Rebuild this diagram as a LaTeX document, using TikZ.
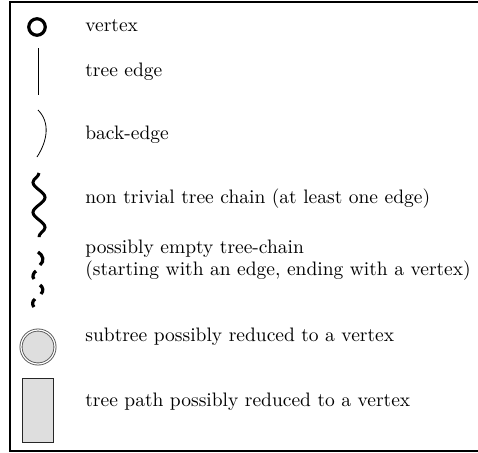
\documentclass[tikz,border=0pt]{standalone}
\usetikzlibrary{decorations.pathmorphing}
\begin{document}
\begin{tikzpicture}[x=1pt,y=-1pt,
  lbl/.style={anchor=base west,inner sep=0pt,font=\fontsize{10}{12}\selectfont,scale=1.95,transform shape},
  vtx/.style={circle,draw=black,line width=3.2pt,minimum size=16.5pt,inner sep=0pt},
  frameline/.style={line width=2pt},
  treeedge/.style={line width=1pt},
  backedge/.style={line width=0.8pt},
  chain/.style={line width=3pt,decorate,decoration={snake,amplitude=6pt,segment length=30pt,mirror}},
  dsh/.style={line width=3.2pt},
  subtree/.style={circle,draw=black!65,double=white,double distance=1.2pt,line width=0.9pt,fill=black!13,minimum size=34pt,inner sep=0pt},
  pathbox/.style={draw=black!85,line width=1pt,fill=black!13,minimum width=31pt,minimum height=64pt,inner sep=0pt}]
\useasboundingbox (0,0) rectangle (478,452);
\coordinate (ftl) at (9,2);
\coordinate (ftr) at (490,2);
\coordinate (fbl) at (9,450.7);
\coordinate (fbr) at (490,450.7);
\coordinate (flt) at (10,1);
\coordinate (flb) at (10,451.7);
\draw[frameline] (ftl) -- (ftr);
\draw[frameline] (fbl) -- (fbr);
\draw[frameline] (flt) -- (flb);
% vertex
\node[vtx] (v) at (37,27) {};
\node[lbl] (lv) at (85,32) {vertex};
% tree edge
\coordinate (te1) at (38,48);
\coordinate (te2) at (38,95);
\draw[treeedge] (te1) -- (te2);
\node[lbl] (lte) at (85,76) {tree edge};
% back-edge
\coordinate (be1) at (38,110);
\coordinate (be2) at (37,157);
\draw[backedge] (be1) .. controls (50,122) and (48,140) .. (be2);
\node[lbl] (lbe) at (85,139) {back-edge};
% chain
\coordinate (c1) at (39,173);
\coordinate (c2) at (39,237);
\draw[chain] (c1) -- (c2);
\node[lbl] (lc) at (85,203) {non trivial tree chain (at least one edge)};
% dashed chain (drawn as separate curled dashes)
\coordinate (d1a) at (38,252);
\coordinate (d1b) at (40,265);
\coordinate (d2a) at (36,271);
\coordinate (d2b) at (34,279);
\coordinate (d3a) at (40,285);
\coordinate (d3b) at (41,294);
\coordinate (d4a) at (35,299);
\coordinate (d4b) at (34,307);
\draw[dsh] (d1a) .. controls (43,255) and (45,261) .. (d1b);
\draw[dsh] (d2a) .. controls (33,273) and (32,277) .. (d2b);
\draw[dsh] (d3a) .. controls (43,287) and (44,291) .. (d3b);
\draw[dsh] (d4a) .. controls (32,301) and (32,305) .. (d4b);
\node[lbl] (ld1) at (85,253) {possibly empty tree-chain};
\node[lbl] (ld2) at (85,275) {(starting with an edge, ending with a vertex)};
% subtree
\node[subtree] (st) at (38,347) {};
\node[lbl] (lst) at (85,341) {subtree possibly reduced to a vertex};
% tree path
\node[pathbox] (tp) at (37.5,410) {};
\node[lbl] (ltp) at (85,406) {tree path possibly reduced to a vertex};
\end{tikzpicture}
\end{document}
